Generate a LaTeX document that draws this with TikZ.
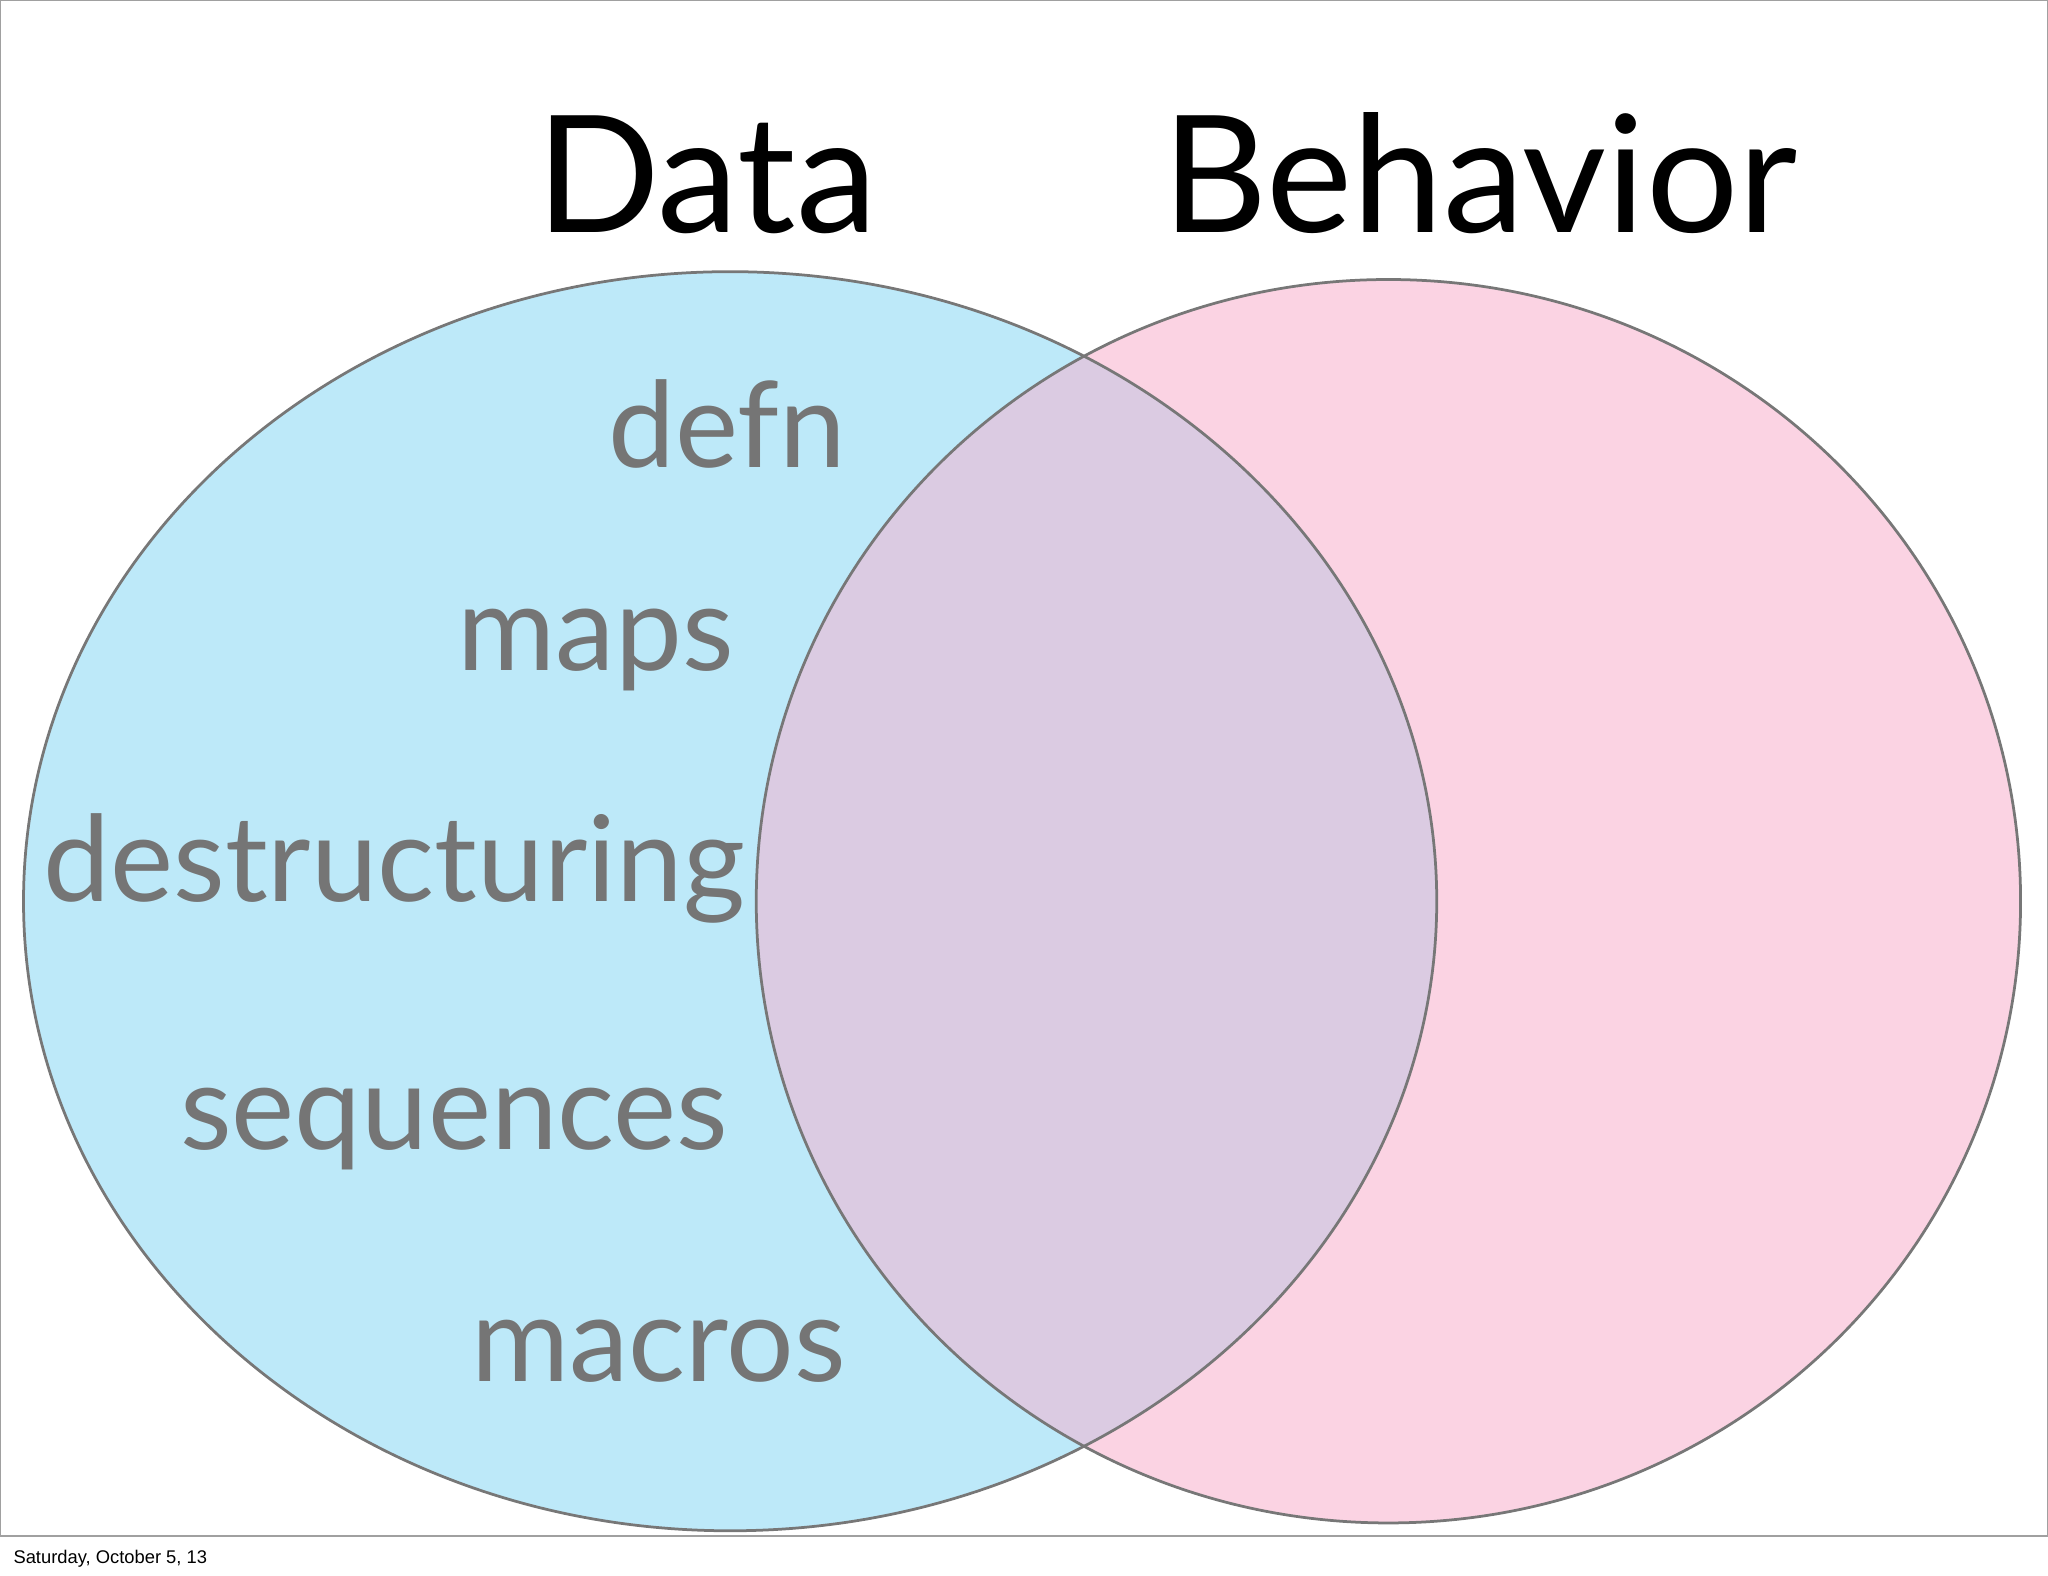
\documentclass[tikz,border=0pt]{standalone}
\usepackage{fontspec}
\setmainfont{Lato}
\newfontfamily\footfont{Liberation Sans}
\definecolor{bluefill}{HTML}{BDE9F9}
\definecolor{pinkfill}{HTML}{FBD3E3}
\definecolor{mixfill}{HTML}{DBCBE2}
\definecolor{edge}{HTML}{777777}
\definecolor{wordgrey}{HTML}{757575}
\begin{document}
\begin{tikzpicture}[x=0.02cm,y=-0.02cm,
  title/.style={font=\fontsize{71}{71}\selectfont, text=black, inner sep=0},
  word/.style={font=\fontsize{52}{52}\selectfont, text=wordgrey, inner sep=0},
  ring/.style={draw=edge, line width=1.2pt}]
\useasboundingbox (0,0) rectangle (1568,1206);
\draw[edge!70, line width=0.6pt] (0,0) rectangle (1568,1176);
\fill[bluefill] (559,690) ellipse [x radius=541, y radius=482];
\fill[pinkfill] (1063,690) ellipse [x radius=484, y radius=476];
\begin{scope}
\clip (559,690) ellipse [x radius=541, y radius=482];
\fill[mixfill] (1063,690) ellipse [x radius=484, y radius=476];
\end{scope}
\draw[ring] (559,690) ellipse [x radius=541, y radius=482];
\draw[ring] (1063,690) ellipse [x radius=484, y radius=476];
\node[title, anchor=base] (data) at (541,178) {Data};
\node[title, anchor=base] (beh) at (1133,178) {Behavior};
\node[word, anchor=base east] (defn) at (648,358) {defn};
\node[word, anchor=base east] (maps) at (562,513) {maps};
\node[word, anchor=base west] (destr) at (33,690) {destructuring};
\node[word, anchor=base east] (seq) at (558,880) {sequences};
\node[word, anchor=base east] (mac) at (648,1058) {macros};
\node[anchor=base west, inner sep=0, font=\footfont\fontsize{8}{8}\selectfont] (foot) at (10,1197) {Saturday, October 5, 13};
\end{tikzpicture}
\end{document}
